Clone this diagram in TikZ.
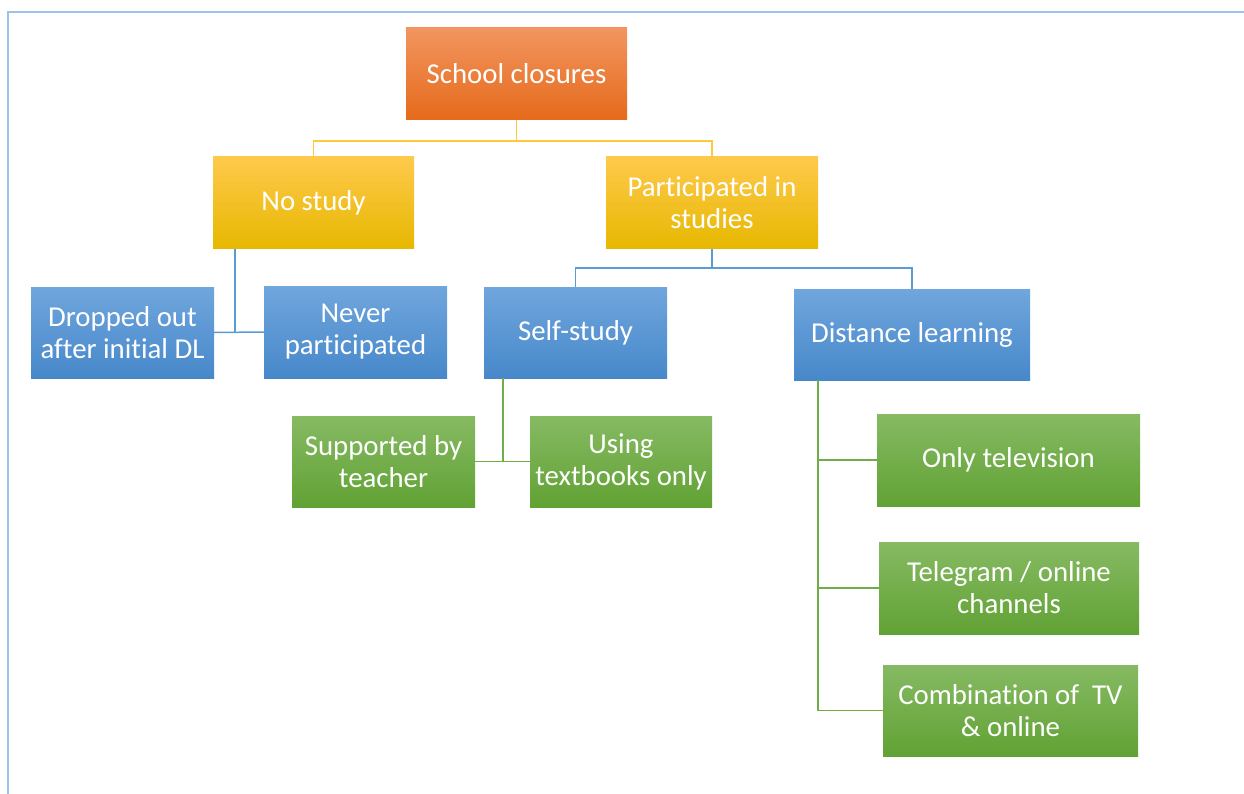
\documentclass[tikz,border=0pt]{standalone}
\usepackage{fontspec}
\setmainfont[Ligatures={NoCommon}]{Carlito}
\usetikzlibrary{shadings}
\definecolor{framec}{HTML}{9DC3E6}
\definecolor{orT}{HTML}{F29560}
\definecolor{orM}{HTML}{F07F2A}
\definecolor{orB}{HTML}{E56A1B}
\definecolor{yeT}{HTML}{FFC94C}
\definecolor{yeM}{HTML}{FFC000}
\definecolor{yeB}{HTML}{E6B800}
\definecolor{blT}{HTML}{70A6DD}
\definecolor{blM}{HTML}{5797D6}
\definecolor{blB}{HTML}{4788CA}
\definecolor{grT}{HTML}{86BA63}
\definecolor{grM}{HTML}{71B043}
\definecolor{grB}{HTML}{61A234}
\definecolor{yline}{HTML}{FFC83D}
\definecolor{bline}{HTML}{5B9BD5}
\definecolor{gline}{HTML}{70AD47}
\tikzset{
  box/.style={rectangle, inner sep=0pt, align=center, text=white,
    font=\fontsize{28.8}{32}\selectfont},
  orbox/.style={box, top color=orT, middle color=orM, bottom color=orB},
  yebox/.style={box, top color=yeT, middle color=yeM, bottom color=yeB},
  blbox/.style={box, top color=blT, middle color=blM, bottom color=blB},
  grbox/.style={box, top color=grT, middle color=grM, bottom color=grB},
  yconn/.style={draw=yline, line width=1.5pt},
  bconn/.style={draw=bline, line width=1.5pt},
  gconn/.style={draw=gline, line width=1.5pt},
}
\begin{document}
\begin{tikzpicture}[x=1pt,y=1pt]
\useasboundingbox (0,0) rectangle (1244,-794);
\fill[white] (0,0) rectangle (1244,-794);
\draw[framec, line width=2.5pt] (1244,-12) -- (8,-12) -- (8,-794);

% nodes (centre, width, height)
\node[orbox, minimum width=221, minimum height=92] (sc) at (516.5,-74) {School closures};
\node[yebox, minimum width=201, minimum height=92] (ns) at (313.5,-203) {No study};
\node[yebox, minimum width=212, minimum height=92] (ps) at (712,-203) {Participated in\\studies};
\node[blbox, minimum width=183, minimum height=91] (dr) at (122.5,-332.5) {Dropped out\\after initial DL};
\node[blbox, minimum width=183, minimum height=92] (np) at (355.5,-332) {Never\\participated};
\node[blbox, minimum width=183, minimum height=91] (ss) at (575.5,-332.5) {Self-study};
\node[blbox, minimum width=236, minimum height=91] (dl) at (912,-334.5) {Distance learning};
\node[grbox, minimum width=183, minimum height=91] (st) at (383.5,-461.5) {Supported by\\teacher};
\node[grbox, minimum width=182, minimum height=91] (ut) at (621,-461.5) {Using\\textbooks only};
\node[grbox, minimum width=263, minimum height=92] (ot) at (1008.5,-460) {Only television};
\node[grbox, minimum width=260, minimum height=92] (tg) at (1009,-588) {Telegram / online\\channels};
\node[grbox, minimum width=255, minimum height=91] (cb) at (1010.5,-710.5) {Combination of~~TV\\\& online};

% connectors
\coordinate (y1) at (0,-141);
\draw[yconn] (sc.south) -- (sc.south |- y1) -| (ns.north);
\draw[yconn] (sc.south |- y1) -| (ps.north);

\coordinate (y2) at (0,-268);
\draw[bconn] (ps.south) -- (ps.south |- y2) -| (ss.north);
\draw[bconn] (ps.south |- y2) -| (dl.north);

\coordinate (nsx) at ([xshift=22pt]ns.south west);
\draw[bconn] (nsx) |- (dr.east);
\draw[bconn] (dr.east) -- (np.west);

\coordinate (ssx) at ([xshift=19pt]ss.south west);
\draw[gconn] (ssx) |- (st.east);
\draw[gconn] (st.east) -- (ut.west);

\coordinate (dlx) at ([xshift=24pt]dl.south west);
\draw[gconn] (dlx) |- (cb.west);
\draw[gconn] (ot.west) -- (ot.west -| dlx);
\draw[gconn] (tg.west) -- (tg.west -| dlx);
\end{tikzpicture}
\end{document}
